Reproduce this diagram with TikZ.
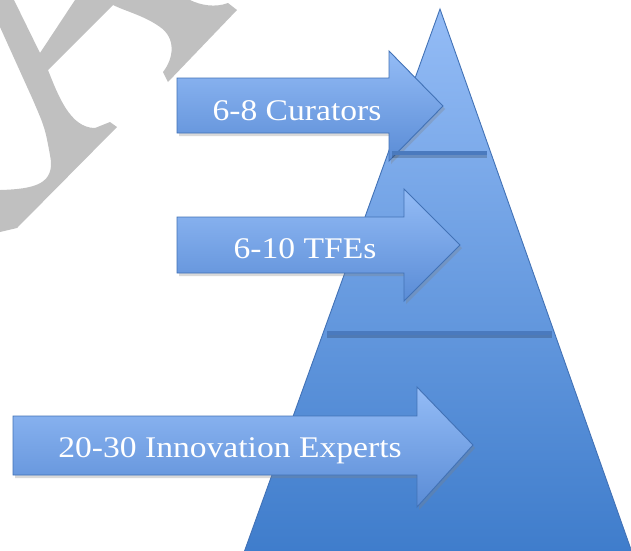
\documentclass[tikz,border=0pt]{standalone}
\usepackage{fontspec}
\setmainfont{Liberation Serif}[FakeStretch=1.12]
\usetikzlibrary{shadows}

\definecolor{lightblue}{RGB}{148,188,246}
\definecolor{midblue}{RGB}{90,140,214}
\definecolor{deepblue}{RGB}{62,124,203}
\definecolor{edgeblue}{RGB}{66,114,182}
\definecolor{lineblue}{RGB}{74,122,190}
\definecolor{markgray}{RGB}{192,192,192}

\begin{document}
\begin{tikzpicture}[x=1pt, y=-1pt,
    tierarrow/.style={draw=edgeblue, line width=0.9pt, line join=miter,
        top color=lightblue, bottom color=midblue,
        drop shadow={shadow xshift=2pt, shadow yshift=-3pt, opacity=0.3}},
    tierline/.style={draw=lineblue, line width=3.5pt},
    tiershadow/.style={draw=black, opacity=0.18, line width=4pt},
    tiertext/.style={text=white, inner sep=0pt, anchor=base,
        font=\fontsize{30}{36}\selectfont}]
    \useasboundingbox (0,0) rectangle (631,550);
    \clip (0,0) rectangle (631,550);

    % --- 水印 ---
    \fill[markgray] (0,0) -- (14,0) -- (40,53) -- (75,0) -- (190,0)
        .. controls (200,5) and (215,8) .. (228,3) -- (237,10) -- (168,82) -- (163,72)
        .. controls (174,58) and (176,38) .. (160,27)
        .. controls (145,16) and (125,11) .. (113,5) -- (48,70)
        .. controls (58,95) and (70,128) .. (95,128) -- (110,122) -- (117,127)
        -- (17,228) -- (0,232) -- (0,190)
        .. controls (35,189) and (56,184) .. (50,155)
        .. controls (45,128) .. (33,100) -- (0,27) -- cycle;

    % --- 金字塔 ---
    \coordinate (apex) at (440,9);
    \coordinate (baseR) at (634,558);
    \coordinate (baseL) at (242,558);
    \draw[draw=edgeblue, line width=0.9pt, top color=lightblue, bottom color=deepblue]
        (apex) -- (baseR) -- (baseL) -- cycle;

    % --- 箭头 ---
    \draw[tierarrow] (177,78) -- (389,78) -- (389,51) -- (443,106) -- (389,161)
        -- (389,133) -- (177,133) -- cycle;
    \draw[tierarrow] (177,217) -- (404,217) -- (404,189) -- (460,245) -- (404,301)
        -- (404,273) -- (177,273) -- cycle;
    \draw[tierarrow] (13,416) -- (417,416) -- (417,387) -- (473,445) -- (417,507)
        -- (417,475) -- (13,475) -- cycle;

    % --- 分隔线 ---
    \coordinate (cutA) at (392,153);
    \coordinate (cutB) at (487,153);
    \coordinate (cutC) at (327,333);
    \coordinate (cutD) at (552,333);
    \draw[tiershadow] ([yshift=-3pt]cutA) -- ([yshift=-3pt]cutB);
    \draw[tiershadow] ([yshift=-3pt]cutC) -- ([yshift=-3pt]cutD);
    \draw[tierline] (cutA) -- (cutB);
    \draw[tierline] (cutC) -- (cutD);

    % --- 文字 ---
    \node[tiertext] (curators) at (297,120) {6-8 Curators};
    \node[tiertext] (tfes) at (305,258) {6-10 TFEs};
    \node[tiertext] (experts) at (230,457) {20-30 Innovation Experts};
\end{tikzpicture}
\end{document}
